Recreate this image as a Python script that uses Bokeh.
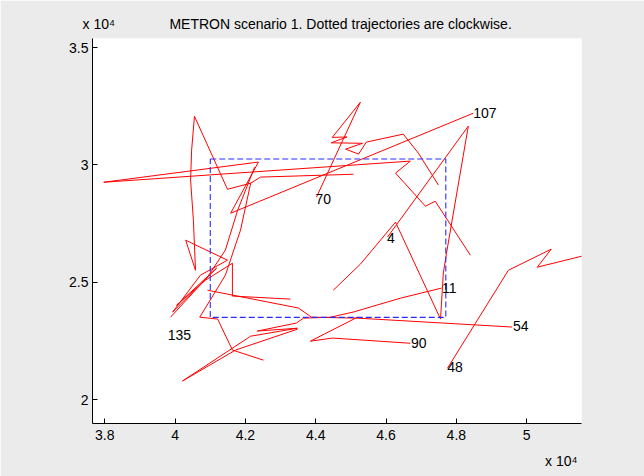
from bokeh.plotting import figure
from bokeh.models import Range1d, FixedTicker, Title
from bokeh.embed import file_html
from bokeh.resources import INLINE
from bokeh.core.properties import value

FONT = "Liberation Sans"

# ---- trajectories (x, y in metres) ----
t107_x = [48480, 41580, 42370, 37970, 46690, 46270, 47120, 47400, 48400]
t107_y = [32200, 27940, 30120, 29260, 30160, 29650, 28240, 28450, 26150]

t70_x = [44020, 45270, 44470, 44890, 44440, 45330, 44850, 45220, 45440, 46490, 46920, 47490]
t70_y = [28620, 32670, 31170, 31190, 30940, 30920, 30670, 30460, 30970, 31310, 30500, 29140]

t4_x = [46040, 48340, 47720, 47630, 47550, 46270, 45270, 44500]
t4_y = [26920, 31650, 26240, 25390, 23430, 27560, 25770, 24660]

t11_x = [47580, 46410, 45070, 44420, 43650, 43450, 42340, 43480, 42150, 40210, 41720, 43480]
t11_y = [24750, 24320, 23730, 23510, 23470, 23260, 22920, 23040, 22700, 20790, 22110, 23000]

t54_x = [49590, 45190, 43880, 43510, 40920]
t54_y = [23090, 23470, 23510, 23900, 24660]

t90_x = [46690, 44480, 43850, 45190]
t90_y = [22400, 22620, 22490, 23510]

t48_x = [47750, 49480, 50700, 50300, 51810]
t48_y = [21340, 25510, 26410, 25640, 26200]

t135_x = [39870, 40920, 41430, 41780, 42260]
t135_y = [23510, 25220, 26370, 28070, 29900]

ta_x = [45070, 42430, 42150, 41490, 40550, 40470, 40440, 40520, 40580, 40300,
        41490, 40720, 39930, 41180, 40040, 40870, 41630, 41630, 43280]
ta_y = [29600, 29480, 29220, 28960, 32070, 30630, 29350, 27640, 25510, 26790,
        25940, 25300, 23730, 25600, 24020, 25090, 25810, 24410, 24280]

tb_x = [42510, 41630, 41210, 40700, 41430, 41860, 42150]
tb_y = [21680, 22110, 23430, 23510, 25300, 27220, 29220]

tracks_x = [t107_x, t70_x, t4_x, t11_x, t54_x, t90_x, t48_x, t135_x, ta_x, tb_x]
tracks_y = [t107_y, t70_y, t4_y, t11_y, t54_y, t90_y, t48_y, t135_y, ta_y, tb_y]

# ---- track id labels ----
label_text = ["107", "70", "4", "11", "54", "90", "48", "135"]
label_x = [48480, 43990, 46030, 47590, 49610, 46710, 47740, 39790]
label_y = [32200, 28560, 26870, 24750, 23120, 22400, 21380, 22750]

# ---- surveillance region (dashed box) ----
box_x = [41000, 47700, 47700, 41000, 41000]
box_y = [30250, 30250, 23500, 23500, 30250]

# ---- axes ----
xtick_vals = [38000, 40000, 42000, 44000, 46000, 48000, 50000]
xtick_labels = ["3.8", "4", "4.2", "4.4", "4.6", "4.8", "5"]
ytick_vals = [20000, 25000, 30000, 35000]
ytick_labels = ["2", "2.5", "3", "3.5"]

title_text = "METRON scenario 1. Dotted trajectories are clockwise."
exponent_text = "x 10\u2074"

p = figure(width=644, height=476, output_backend="svg", toolbar_location=None,
           x_range=Range1d(37650, 51560), y_range=Range1d(18980, 35385),
           min_border_left=92, min_border_right=63, min_border_top=38,
           min_border_bottom=53, title=None)
p.background_fill_color = "white"
p.border_fill_color = "#ebebeb"
p.outline_line_color = None
p.grid.visible = False

for ax in (p.xaxis, p.yaxis):
    ax.major_tick_in = 5
    ax.major_tick_out = 0
    ax.minor_tick_line_color = None
    ax.axis_line_color = "black"
    ax.major_tick_line_color = "black"
    ax.major_label_text_font = FONT
    ax.major_label_text_font_size = "14px"
    ax.major_label_text_color = "black"

p.xaxis.ticker = FixedTicker(ticks=xtick_vals)
p.xaxis.major_label_overrides = {v: s for v, s in zip(xtick_vals, xtick_labels)}
p.xaxis.major_label_standoff = 6
p.yaxis.ticker = FixedTicker(ticks=ytick_vals)
p.yaxis.major_label_standoff = 4
p.yaxis.major_label_overrides = {v: s for v, s in zip(ytick_vals, ytick_labels)}

for xs, ys in zip(tracks_x, tracks_y):
    p.line(xs, ys, line_color="red", line_width=1)

p.line(box_x, box_y, line_color="#2a2aff", line_width=1.1, line_dash="6 3")

p.text(x=label_x, y=label_y, text=label_text, text_font=value(FONT),
       text_font_size="14px", text_baseline="middle", text_align="left",
       text_color="black")

# top row: exponent note and title on one line
top = Title(text=exponent_text + "\u00a0" * 14 + title_text, align="left",
            offset=-10, standoff=13, text_font=FONT, text_font_size="14px",
            text_font_style="normal", text_color="black")
p.add_layout(top, "above")

# bottom exponent note
bot = Title(text=exponent_text, align="right", offset=4, standoff=16,
            text_font=FONT, text_font_size="14px", text_font_style="normal",
            text_color="black")
p.add_layout(bot, "below")

open("out.html", "w").write(file_html(p, INLINE))
